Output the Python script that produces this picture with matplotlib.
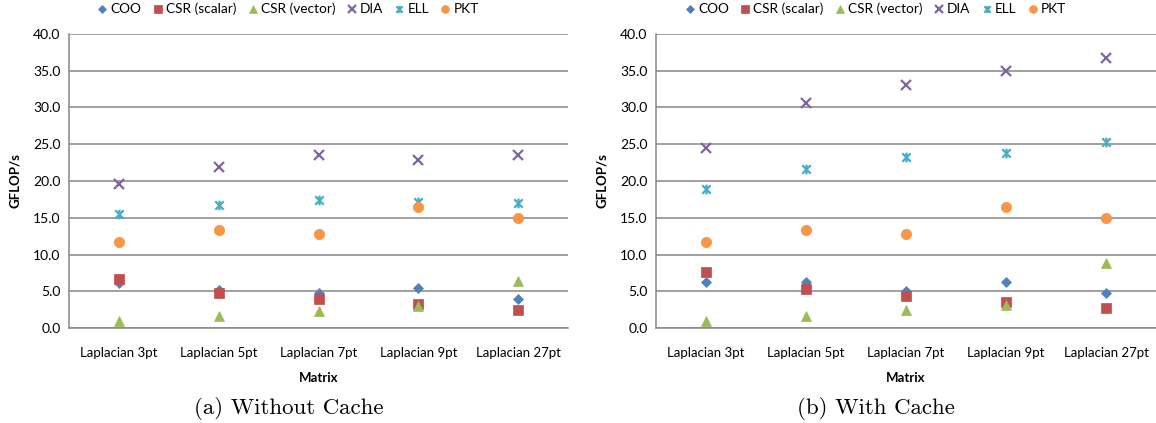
import matplotlib
matplotlib.use("Agg")
import matplotlib.pyplot as plt
from matplotlib.path import Path
import numpy as np

categories = ["Laplacian 3pt", "Laplacian 5pt", "Laplacian 7pt", "Laplacian 9pt", "Laplacian 27pt"]
series_names = ["COO", "CSR (scalar)", "CSR (vector)", "DIA", "ELL", "PKT"]

# (a) Without Cache
nc_coo = [6.1, 5.2, 4.7, 5.5, 3.9]
nc_csr_scalar = [6.7, 4.8, 4.0, 3.2, 2.4]
nc_csr_vector = [1.0, 1.7, 2.3, 3.0, 6.4]
nc_dia = [19.6, 21.9, 23.55, 22.8, 23.55]
nc_ell = [15.5, 16.7, 17.4, 17.2, 17.0]
nc_pkt = [11.7, 13.3, 12.8, 16.5, 15.0]

# (b) With Cache
wc_coo = [6.25, 6.2, 5.1, 6.3, 4.8]
wc_csr_scalar = [7.6, 5.3, 4.3, 3.5, 2.7]
wc_csr_vector = [1.0, 1.7, 2.4, 3.1, 8.9]
wc_dia = [24.5, 30.6, 33.0, 34.9, 36.8]
wc_ell = [18.9, 21.6, 23.3, 23.8, 25.3]
wc_pkt = [11.7, 13.3, 12.8, 16.5, 15.0]

y_ticks = [0, 5, 10, 15, 20, 25, 30, 35, 40]
captions = ["(a) Without Cache", "(b) With Cache"]

colors = ["#4F81BD", "#C0504D", "#9BBB59", "#8064A2", "#4BACC6", "#F79646"]

star = Path([(-1, -1), (1, 1), (-1, 1), (1, -1), (0, -1.15), (0, 1.15)],
            [Path.MOVETO, Path.LINETO, Path.MOVETO, Path.LINETO, Path.MOVETO, Path.LINETO])
markers = ["D", "s", "^", "x", star, "o"]
sizes = [5.5, 7.5, 7.5, 7, 7, 7.5]

FONT = ["Lato", "DejaVu Sans"]
plt.rcParams["font.family"] = FONT

fig = plt.figure(figsize=(11.56, 4.23), dpi=100)
ax_a = fig.add_axes([69 / 1156, (423 - 328) / 423, 499 / 1156, 294 / 423])
ax_b = fig.add_axes([656 / 1156, (423 - 328) / 423, 500 / 1156, 294 / 423])

data = [
    [nc_coo, nc_csr_scalar, nc_csr_vector, nc_dia, nc_ell, nc_pkt],
    [wc_coo, wc_csr_scalar, wc_csr_vector, wc_dia, wc_ell, wc_pkt],
]

grid_col = "#868686"
x = np.arange(len(categories))
for ax, ds, cap in zip([ax_a, ax_b], data, captions):
    handles = []
    for vals, name, c, m, s in zip(ds, series_names, colors, markers, sizes):
        if m in ("x",) or isinstance(m, Path):
            h, = ax.plot(x, vals, linestyle="none", marker=m, markersize=s,
                         markeredgecolor=c, markerfacecolor=c, markeredgewidth=1.6,
                         label=name, zorder=3)
        else:
            h, = ax.plot(x, vals, linestyle="none", marker=m, markersize=s,
                         markeredgecolor=c, markerfacecolor=c, markeredgewidth=0.5,
                         label=name, zorder=3)
        handles.append(h)
    ax.set_xlim(-0.5, len(categories) - 0.5)
    ax.set_ylim(0, 40)
    ax.set_yticks(y_ticks)
    ax.set_yticklabels([f"{v:.1f}" for v in y_ticks], fontsize=10)
    ax.set_xticks(x)
    ax.set_xticklabels(categories, fontsize=9.5)
    ax.tick_params(axis="both", length=0, colors="black")
    ax.tick_params(axis="x", pad=14)
    ax.tick_params(axis="y", pad=6)
    ax.yaxis.grid(True, color=grid_col, linewidth=1.1)
    ax.set_axisbelow(True)
    for sp in ["top", "right"]:
        ax.spines[sp].set_visible(False)
    for sp in ["left", "bottom"]:
        ax.spines[sp].set_color(grid_col)
        ax.spines[sp].set_linewidth(1.1)
    ax.set_ylabel("GFLOP/s", fontsize=9.5, fontweight="bold", labelpad=9)
    ax.set_xlabel("Matrix", fontsize=9.5, fontweight="bold", labelpad=9)
    bb = ax.get_position()
    cx = bb.x0 + bb.width / 2
    fig.text(cx - 30 / 1156, 15 / 423, cap, ha="center", va="center", fontsize=16.5,
             family=["cmr10", "DejaVu Serif"])
    leg = fig.legend(handles=handles, loc="center", bbox_to_anchor=(cx - 30 / 1156, 1 - 9 / 423),
                     ncol=6, frameon=False, fontsize=9.8, handlelength=0.6,
                     handletextpad=0.3, columnspacing=0.9, markerscale=0.75,
                     borderaxespad=0)

fig.savefig("out.png", dpi=100)
